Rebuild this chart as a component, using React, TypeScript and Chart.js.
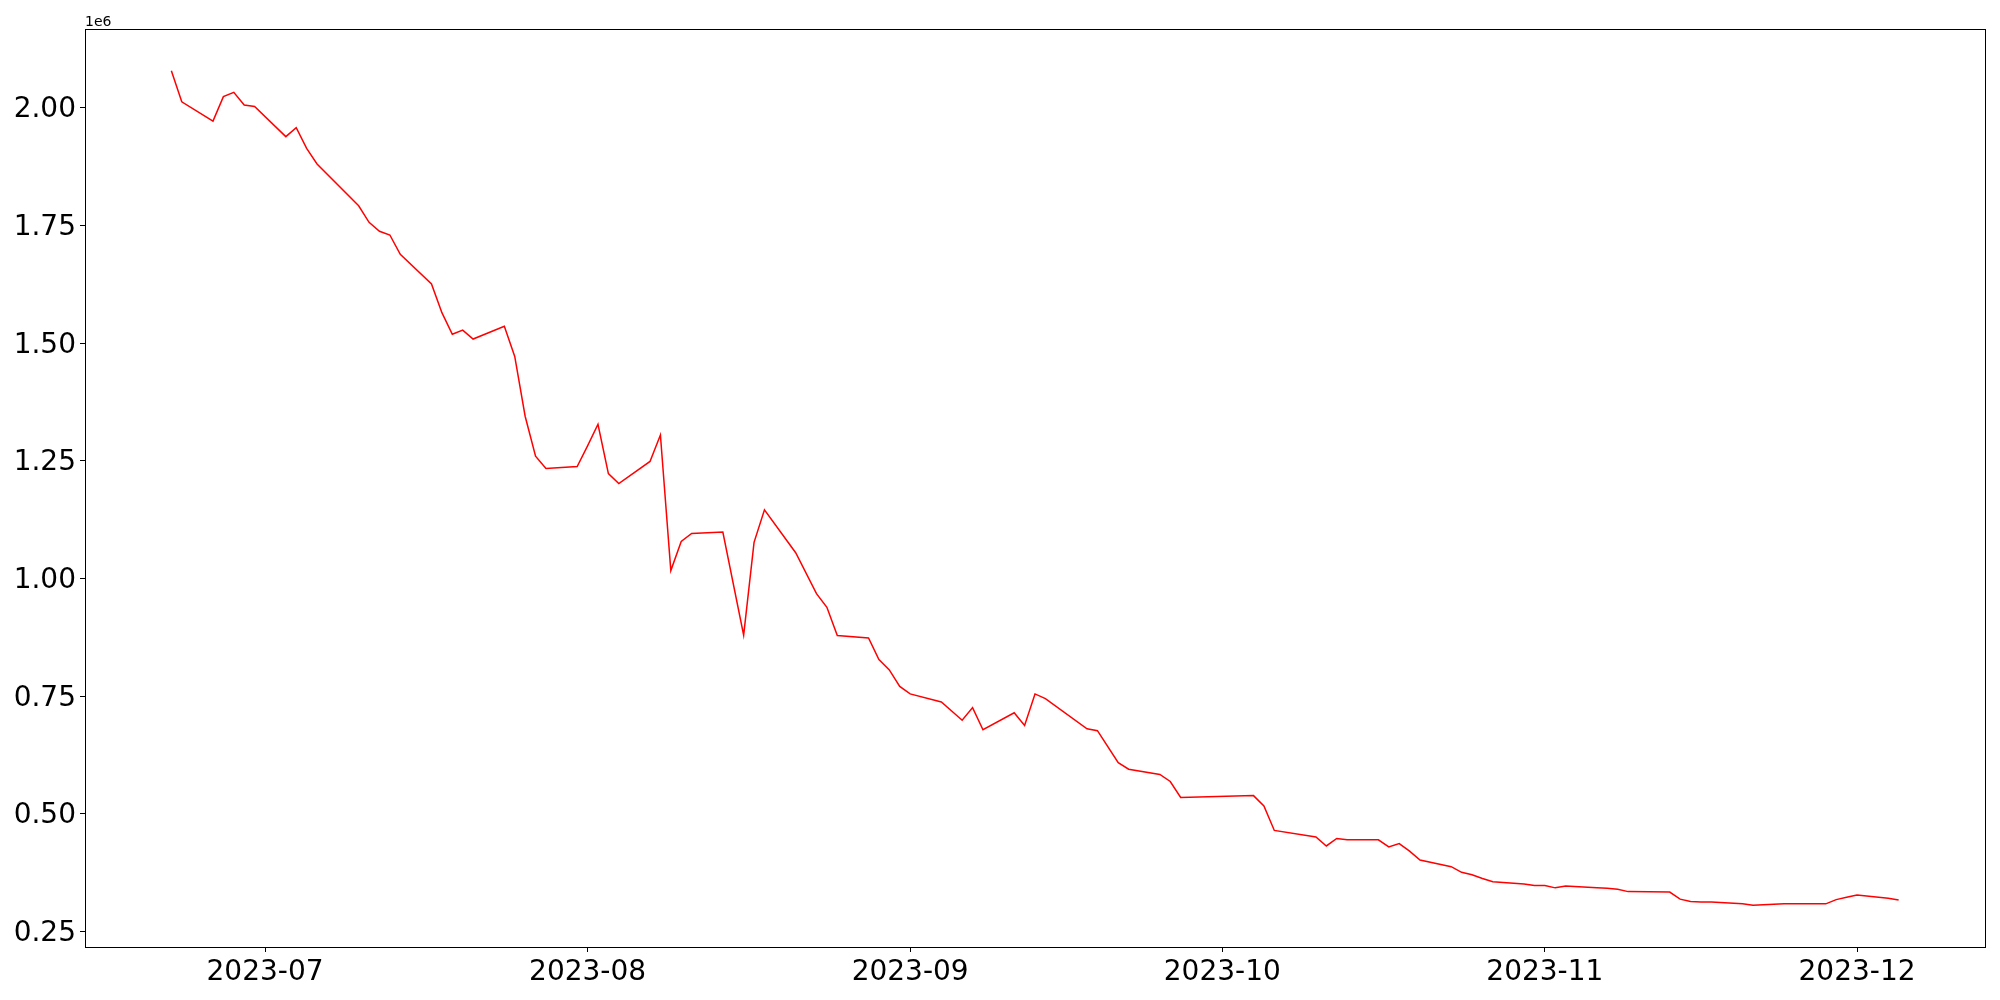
import { useEffect, useRef } from 'react';
import { Chart, registerables } from 'chart.js';

Chart.register(...registerables);

// Dates (trading days) of the series
const dates: string[] = [
  '2023-06-22', '2023-06-23', '2023-06-26', '2023-06-27', '2023-06-28', '2023-06-29', '2023-06-30',
  '2023-07-03', '2023-07-04', '2023-07-05', '2023-07-06', '2023-07-10', '2023-07-11', '2023-07-12',
  '2023-07-13', '2023-07-14', '2023-07-17', '2023-07-18', '2023-07-19', '2023-07-20', '2023-07-21',
  '2023-07-24', '2023-07-25', '2023-07-26', '2023-07-27', '2023-07-28', '2023-07-31',
  '2023-08-01', '2023-08-02', '2023-08-03', '2023-08-04', '2023-08-07', '2023-08-08', '2023-08-09',
  '2023-08-10', '2023-08-11', '2023-08-14', '2023-08-16', '2023-08-17', '2023-08-18', '2023-08-21',
  '2023-08-23', '2023-08-24', '2023-08-25', '2023-08-28', '2023-08-29', '2023-08-30', '2023-08-31',
  '2023-09-01', '2023-09-04', '2023-09-06', '2023-09-07', '2023-09-08', '2023-09-11', '2023-09-12',
  '2023-09-13', '2023-09-14', '2023-09-18', '2023-09-19', '2023-09-21', '2023-09-22', '2023-09-25',
  '2023-09-26', '2023-09-27', '2023-10-04', '2023-10-05', '2023-10-06', '2023-10-10', '2023-10-11',
  '2023-10-12', '2023-10-13', '2023-10-16', '2023-10-17', '2023-10-18', '2023-10-19', '2023-10-20',
  '2023-10-23', '2023-10-24', '2023-10-25', '2023-10-26', '2023-10-27', '2023-10-30', '2023-10-31',
  '2023-11-01', '2023-11-02', '2023-11-03', '2023-11-06', '2023-11-07', '2023-11-08', '2023-11-09',
  '2023-11-13', '2023-11-14', '2023-11-15', '2023-11-16', '2023-11-17', '2023-11-20', '2023-11-21',
  '2023-11-22', '2023-11-24', '2023-11-27', '2023-11-28', '2023-11-29', '2023-11-30', '2023-12-01',
  '2023-12-04', '2023-12-05',
];

// Series values
const values: number[] = [
  2079000, 2013000, 1972000, 2024000, 2033000, 2006000, 2003000,
  1939000, 1958000, 1914000, 1881000, 1792000, 1757000, 1738000,
  1730000, 1689000, 1626000, 1565000, 1519000, 1528000, 1509000,
  1536000, 1472000, 1345000, 1260000, 1234000, 1238000,
  1282000, 1328000, 1223000, 1202000, 1249000, 1305000, 1017000,
  1079000, 1096000, 1099000, 880000, 1077000, 1146000, 1055000,
  968000, 939000, 879000, 874000, 828000, 806000, 771000,
  755000, 738000, 699000, 726000, 679000, 715000, 688000,
  755000, 745000, 681000, 677000, 609000, 595000, 584000,
  569000, 535000, 539000, 517000, 465000, 451000, 432000,
  448000, 445000, 445000, 430000, 437000, 421000, 402000,
  388000, 376000, 371000, 363000, 356000, 351000, 348000,
  348000, 343000, 347000, 343000, 342000, 340000, 335000,
  334000, 319000, 314000, 313000, 313000, 309000, 306000,
  307000, 309000, 309000, 309000, 318000, 323000, 328000,
  321000, 317000,
];

// Tick labels
const xTickDates: string[] = ['2023-07-01', '2023-08-01', '2023-09-01', '2023-10-01', '2023-11-01', '2023-12-01'];
const xTickLabels: string[] = ['2023-07', '2023-08', '2023-09', '2023-10', '2023-11', '2023-12'];
const yTickValues: number[] = [250000, 500000, 750000, 1000000, 1250000, 1500000, 1750000, 2000000];
const yTickLabels: string[] = ['0.25', '0.50', '0.75', '1.00', '1.25', '1.50', '1.75', '2.00'];
const offsetText = '1e6';

const toMs = (s: string) => Date.parse(s + 'T00:00:00Z');

export default function App() {
  const ref = useRef<HTMLCanvasElement | null>(null);

  useEffect(() => {
    if (!ref.current) return;
    const xs = dates.map(toMs);
    const points = xs.map((x, i) => ({ x, y: values[i] }));
    const xMin0 = Math.min(...xs);
    const xMax0 = Math.max(...xs);
    const xPad = (xMax0 - xMin0) * 0.05;
    const yMin0 = Math.min(...values);
    const yMax0 = Math.max(...values);
    const yPad = (yMax0 - yMin0) * 0.05;
    const tickFont = { family: '"DejaVu Sans", sans-serif', size: 28 };

    const frame = {
      id: 'frame',
      afterDraw(chart: any) {
        const { ctx, chartArea: a } = chart;
        ctx.save();
        ctx.strokeStyle = '#000';
        ctx.lineWidth = 1;
        ctx.strokeRect(Math.round(a.left) + 0.5, Math.round(a.top) + 0.5, Math.round(a.right - a.left), Math.round(a.bottom - a.top));
        ctx.fillStyle = '#000';
        ctx.font = '14px "DejaVu Sans", sans-serif';
        ctx.textAlign = 'left';
        ctx.textBaseline = 'alphabetic';
        ctx.fillText(offsetText, a.left, a.top - 3);
        ctx.restore();
      },
    };

    const chart = new Chart(ref.current, {
      type: 'line',
      data: {
        datasets: [
          {
            data: points,
            borderColor: '#ff0000',
            borderWidth: 1.5,
            pointRadius: 0,
            tension: 0,
            fill: false,
          },
        ],
      },
      options: {
        animation: false,
        responsive: false,
        devicePixelRatio: 1,
        layout: { padding: { top: 29, right: 15, left: 0, bottom: 0 } },
        plugins: { legend: { display: false }, tooltip: { enabled: false } },
        scales: {
          x: {
            type: 'linear',
            min: xMin0 - xPad,
            max: xMax0 + xPad,
            afterFit: (s: any) => { s.height = 53; },
            afterBuildTicks: (s: any) => { s.ticks = xTickDates.map((d) => ({ value: toMs(d) })); },
            grid: { drawOnChartArea: false, drawTicks: true, tickLength: 5, color: '#000', tickColor: '#000' },
            border: { display: true, color: '#000', width: 1 },
            ticks: {
              autoSkip: false,
              maxRotation: 0,
              padding: 4,
              color: '#000',
              font: tickFont,
              callback: (_v: any, i: number) => xTickLabels[i],
            },
          },
          y: {
            type: 'linear',
            min: yMin0 - yPad,
            max: yMax0 + yPad,
            afterFit: (s: any) => { s.width = 85; },
            afterBuildTicks: (s: any) => { s.ticks = yTickValues.map((v) => ({ value: v })); },
            grid: { drawOnChartArea: false, drawTicks: true, tickLength: 5, color: '#000', tickColor: '#000' },
            border: { display: true, color: '#000', width: 1 },
            ticks: {
              autoSkip: false,
              padding: 4,
              labelOffset: 2,
              color: '#000',
              font: tickFont,
              callback: (_v: any, i: number) => yTickLabels[i],
            },
          },
        },
      },
      plugins: [frame],
    } as any);

    return () => chart.destroy();
  }, []);

  return (
    <div style={{ position: 'fixed', left: 0, top: 0, width: 2000, height: 1000, background: '#fff' }}>
      <canvas ref={ref} width={2000} height={1000} style={{ width: 2000, height: 1000, display: 'block' }} />
    </div>
  );
}
